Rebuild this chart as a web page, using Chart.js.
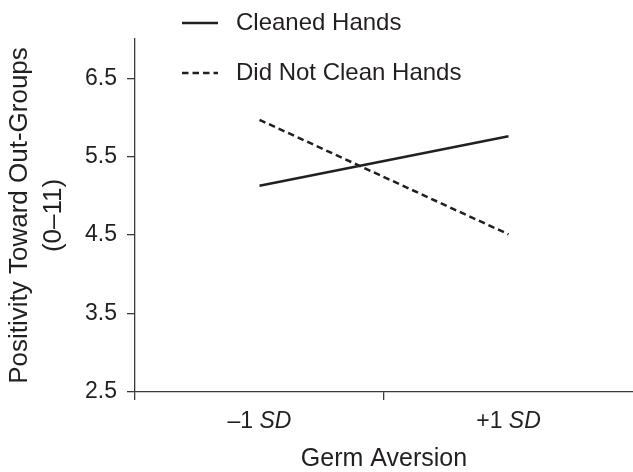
<!DOCTYPE html>
<html>
<head>
<meta charset="utf-8">
<script src="https://cdn.jsdelivr.net/npm/chart.js@4"></script>
<style>
  body { margin: 0; background: #fff; }
  #wrap { width: 633px; height: 472px; }
</style>
</head>
<body>
<div id="wrap"><canvas id="myChart" width="633" height="472"></canvas></div>
<script>
// data
const categories = ["–1 SD", "+1 SD"];
const seriesNames = ["Cleaned Hands", "Did Not Clean Hands"];
const cleanedHands = [5.13, 5.76];
const didNotClean = [5.97, 4.51];
const yTicks = [2.5, 3.5, 4.5, 5.5, 6.5];

const ink = "#231f20";
const axisInk = "#3a3a3a";
const fontFam = "'Liberation Sans', Arial, Helvetica, sans-serif";

// legend drawn as a stacked list over the plot (like the original)
const stackedLegend = {
  id: "stackedLegend",
  afterDraw(chart) {
    const ctx = chart.ctx;
    ctx.save();
    chart.data.datasets.forEach((ds, i) => {
      const y = 23 + i * 50;
      ctx.beginPath();
      ctx.setLineDash(ds.borderDash || []);
      ctx.lineWidth = 2.5;
      ctx.strokeStyle = ink;
      ctx.moveTo(182, y);
      ctx.lineTo(218, y);
      ctx.stroke();
      ctx.setLineDash([]);
      ctx.fillStyle = ink;
      ctx.font = "24px " + fontFam;
      ctx.textAlign = "left";
      ctx.textBaseline = "middle";
      ctx.fillText(ds.label, 236, y);
    });
    ctx.restore();
  }
};

// x tick labels with italic "SD"
const italicTicks = {
  id: "italicTicks",
  afterDraw(chart) {
    const ctx = chart.ctx;
    const xs = chart.scales.x;
    ctx.save();
    ctx.fillStyle = ink;
    ctx.textBaseline = "middle";
    ctx.textAlign = "left";
    categories.forEach((lab, i) => {
      const parts = lab.split(" ");
      const first = parts[0] + " ";
      const second = parts.slice(1).join(" ");
      ctx.font = "23px " + fontFam;
      const w1 = ctx.measureText(first).width;
      ctx.font = "italic 23px " + fontFam;
      const w2 = ctx.measureText(second).width;
      const cx = xs.getPixelForTick(i);
      const x0 = cx - (w1 + w2) / 2;
      const y = xs.top + 30;
      ctx.font = "23px " + fontFam;
      ctx.fillText(first, x0, y);
      ctx.font = "italic 23px " + fontFam;
      ctx.fillText(second, x0 + w1, y);
    });
    ctx.restore();
  }
};

new Chart("myChart", {
  type: "line",
  data: {
    labels: categories,
    datasets: [
      {
        label: seriesNames[0],
        data: cleanedHands,
        borderColor: ink,
        borderWidth: 2.5,
        pointRadius: 0,
        fill: false
      },
      {
        label: seriesNames[1],
        data: didNotClean,
        borderColor: ink,
        borderWidth: 2.5,
        borderDash: [6.5, 4],
        pointRadius: 0,
        fill: false
      }
    ]
  },
  options: {
    responsive: false,
    animation: false,
    layout: { padding: { top: 39, right: 0, left: 0, bottom: 0 } },
    plugins: {
      legend: { display: false },
      tooltip: { enabled: false }
    },
    scales: {
      x: {
        offset: true,
        grid: {
          offset: true,
          drawOnChartArea: false,
          drawTicks: true,
          tickLength: 8,
          // no tick mark on the far right edge
          color: c => (c.type === "tick" ? axisInk : "transparent"),
          lineWidth: 1.3
        },
        border: { display: true, color: axisInk, width: 1.3 },
        ticks: { display: false },
        title: {
          display: true,
          text: "Germ Aversion",
          color: ink,
          font: { family: fontFam, size: 25, lineHeight: 1 },
          padding: { top: 0, bottom: 0 }
        },
        afterFit(scale) { scale.height = 80; }
      },
      y: {
        min: 2.5,
        max: 7,
        afterBuildTicks(axis) {
          axis.ticks = yTicks.map(v => ({ value: v }));
        },
        grid: {
          drawOnChartArea: false,
          drawTicks: true,
          tickLength: 8,
          color: axisInk,
          lineWidth: 1.3
        },
        border: { display: true, color: axisInk, width: 1.3 },
        ticks: {
          color: ink,
          padding: 10,
          font: { family: fontFam, size: 23 },
          callback: v => v.toFixed(1)
        },
        title: {
          display: true,
          text: ["Positivity Toward Out-Groups", "(0–11)"],
          color: ink,
          font: { family: fontFam, size: 26, lineHeight: 1.31 },
          padding: { top: 3, bottom: 0 }
        },
        afterFit(scale) { scale.width = 135; }
      }
    }
  },
  plugins: [stackedLegend, italicTicks]
});
</script>
</body>
</html>
